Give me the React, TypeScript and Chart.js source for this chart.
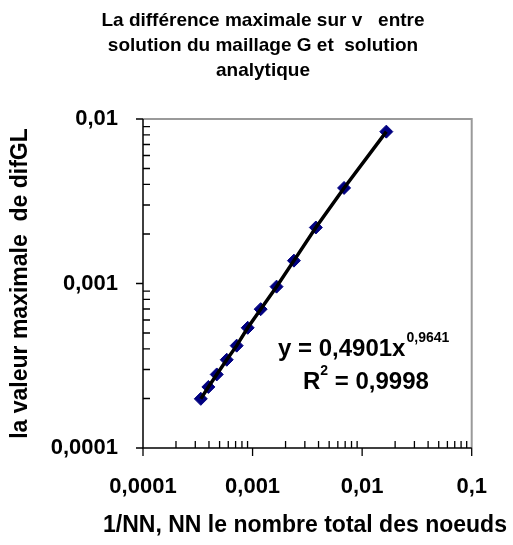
import { useEffect, useRef } from "react";
import { Chart, registerables } from "chart.js";

Chart.register(...registerables);

const W = 513;
const H = 545;
const FONT = "'Liberation Sans', Arial, Helvetica, sans-serif";

// ---- text ----
const titleLines = [
  "La différence maximale sur v   entre",
  "solution du maillage G et  solution",
  "analytique",
];
const xAxisTitle = "1/NN, NN le nombre total des noeuds";
const yAxisTitle = "la valeur maximale  de difGL";
const fitCoef = "0,4901";
const fitExponent = "0,9641";
const fitR2 = "0,9998";

// ---- data ----
const invNodes = [
  3.37e-4, 3.95e-4, 4.71e-4, 5.81e-4, 7.16e-4, 9.03e-4, 1.186e-3, 1.655e-3,
  2.385e-3, 3.78e-3, 6.84e-3, 1.663e-2,
];
const maxDiff = [
  1.99e-4, 2.35e-4, 2.8e-4, 3.44e-4, 4.19e-4, 5.38e-4, 6.98e-4, 9.57e-4,
  1.377e-3, 2.19e-3, 3.81e-3, 8.38e-3,
];

// ---- ticks ----
const xTickValues = [0.0001, 0.001, 0.01, 0.1];
const yTickValues = [0.0001, 0.001, 0.01];
const minorMultipliers = [2, 3, 4, 5, 6, 7, 8, 9];

const fmt = (v: number) => String(v).replace(".", ",");

const decorPlugin = {
  id: "decor",
  afterDraw(chart: any) {
    const ctx: CanvasRenderingContext2D = chart.ctx;
    const { left, right, top, bottom } = chart.chartArea;
    const xs = chart.scales.x;
    const ys = chart.scales.y;
    ctx.save();

    // plot border (top & right gray)
    ctx.strokeStyle = "#9a9a9a";
    ctx.lineWidth = 2;
    ctx.beginPath();
    ctx.moveTo(left, top);
    ctx.lineTo(right, top);
    ctx.lineTo(right, bottom);
    ctx.stroke();

    // axes
    ctx.strokeStyle = "#000";
    ctx.lineWidth = 1.5;
    ctx.beginPath();
    ctx.moveTo(left, top);
    ctx.lineTo(left, bottom);
    ctx.lineTo(right, bottom);
    ctx.stroke();

    ctx.lineWidth = 1.3;
    ctx.beginPath();
    yTickValues.forEach((d, i) => {
      const py = ys.getPixelForValue(d);
      ctx.moveTo(left - 7, py);
      ctx.lineTo(left, py);
      if (i < yTickValues.length - 1) {
        minorMultipliers.forEach((m) => {
          const p = ys.getPixelForValue(d * m);
          ctx.moveTo(left, p);
          ctx.lineTo(left + 7, p);
        });
      }
    });
    xTickValues.forEach((d, i) => {
      const px = xs.getPixelForValue(d);
      ctx.moveTo(px, bottom);
      ctx.lineTo(px, bottom + 8);
      if (i < xTickValues.length - 1) {
        minorMultipliers.forEach((m) => {
          const p = xs.getPixelForValue(d * m);
          ctx.moveTo(p, bottom - 7);
          ctx.lineTo(p, bottom);
        });
      }
    });
    ctx.stroke();

    ctx.fillStyle = "#000";
    ctx.textBaseline = "alphabetic";

    // chart title
    ctx.textAlign = "center";
    ctx.font = `bold 19px ${FONT}`;
    const baselines = [26, 51, 76];
    titleLines.forEach((t, i) => ctx.fillText(t, 263, baselines[i]));

    // x axis title (drawn here so that it is not squeezed to the plot width)
    ctx.font = `bold 23px ${FONT}`;
    ctx.fillText(xAxisTitle, 305, 532);

    // trendline equation
    ctx.textAlign = "left";
    const big = `bold 24px ${FONT}`;
    const small = `bold 14px ${FONT}`;
    let x = 278;
    ctx.font = big;
    const eq = `y = ${fitCoef}x`;
    ctx.fillText(eq, x, 356);
    x += ctx.measureText(eq).width + 1;
    ctx.font = small;
    ctx.fillText(fitExponent, x, 342);

    x = 303;
    ctx.font = big;
    ctx.fillText("R", x, 389);
    x += ctx.measureText("R").width;
    ctx.font = small;
    ctx.fillText("2", x, 375);
    x += ctx.measureText("2").width;
    ctx.font = big;
    ctx.fillText(` = ${fitR2}`, x, 389);

    ctx.restore();
  },
};

export default function App() {
  const ref = useRef<HTMLCanvasElement | null>(null);

  useEffect(() => {
    document.body.style.margin = "0";
    const canvas = ref.current;
    if (!canvas) return;
    const points = invNodes.map((x, i) => ({ x, y: maxDiff[i] }));
    const tickFont = { family: FONT, weight: "bold" as const, size: 22 };
    const titleFont = { family: FONT, weight: "bold" as const, size: 23 };

    const chart = new Chart(canvas, {
      type: "scatter",
      data: {
        datasets: [
          {
            label: "line",
            data: points,
            showLine: true,
            borderColor: "#000",
            borderWidth: 3.5,
            pointRadius: 0,
            tension: 0,
          },
          {
            label: "points",
            data: points,
            showLine: false,
            pointStyle: "rectRot",
            pointRadius: 6.5,
            pointBackgroundColor: "#000080",
            pointBorderColor: "#000080",
            pointBorderWidth: 1,
          },
        ],
      },
      options: {
        responsive: false,
        animation: false,
        devicePixelRatio: 1,
        layout: { padding: { left: 0, top: 119, right: 37, bottom: 0 } },
        plugins: {
          legend: { display: false },
          tooltip: { enabled: false },
          title: { display: false },
        },
        scales: {
          x: {
            type: "logarithmic",
            position: "bottom",
            min: xTickValues[0],
            max: xTickValues[xTickValues.length - 1],
            afterBuildTicks: (s: any) => {
              s.ticks = xTickValues.map((v) => ({ value: v, major: true }));
            },
            afterFit: (s: any) => {
              s.height = 97;
            },
            grid: { display: false, drawTicks: false },
            border: { display: false },
            ticks: {
              autoSkip: false,
              maxRotation: 0,
              padding: 26,
              color: "#000",
              font: tickFont,
              callback: (v: any) => fmt(Number(v)),
            },
            title: { display: false },
          },
          y: {
            type: "logarithmic",
            position: "left",
            min: yTickValues[0],
            max: yTickValues[yTickValues.length - 1],
            afterBuildTicks: (s: any) => {
              s.ticks = yTickValues.map((v) => ({ value: v, major: true }));
            },
            afterFit: (s: any) => {
              s.width = 143;
            },
            grid: { display: false, drawTicks: false },
            border: { display: false },
            ticks: {
              autoSkip: false,
              padding: 25,
              color: "#000",
              font: tickFont,
              callback: (v: any) => fmt(Number(v)),
            },
            title: {
              display: true,
              text: yAxisTitle,
              color: "#000",
              font: titleFont,
              padding: { top: 7, bottom: 0 },
            },
          },
        },
      },
      plugins: [decorPlugin],
    });
    return () => chart.destroy();
  }, []);

  return (
    <div style={{ width: W, height: H }}>
      <canvas ref={ref} width={W} height={H} style={{ display: "block" }} />
    </div>
  );
}
